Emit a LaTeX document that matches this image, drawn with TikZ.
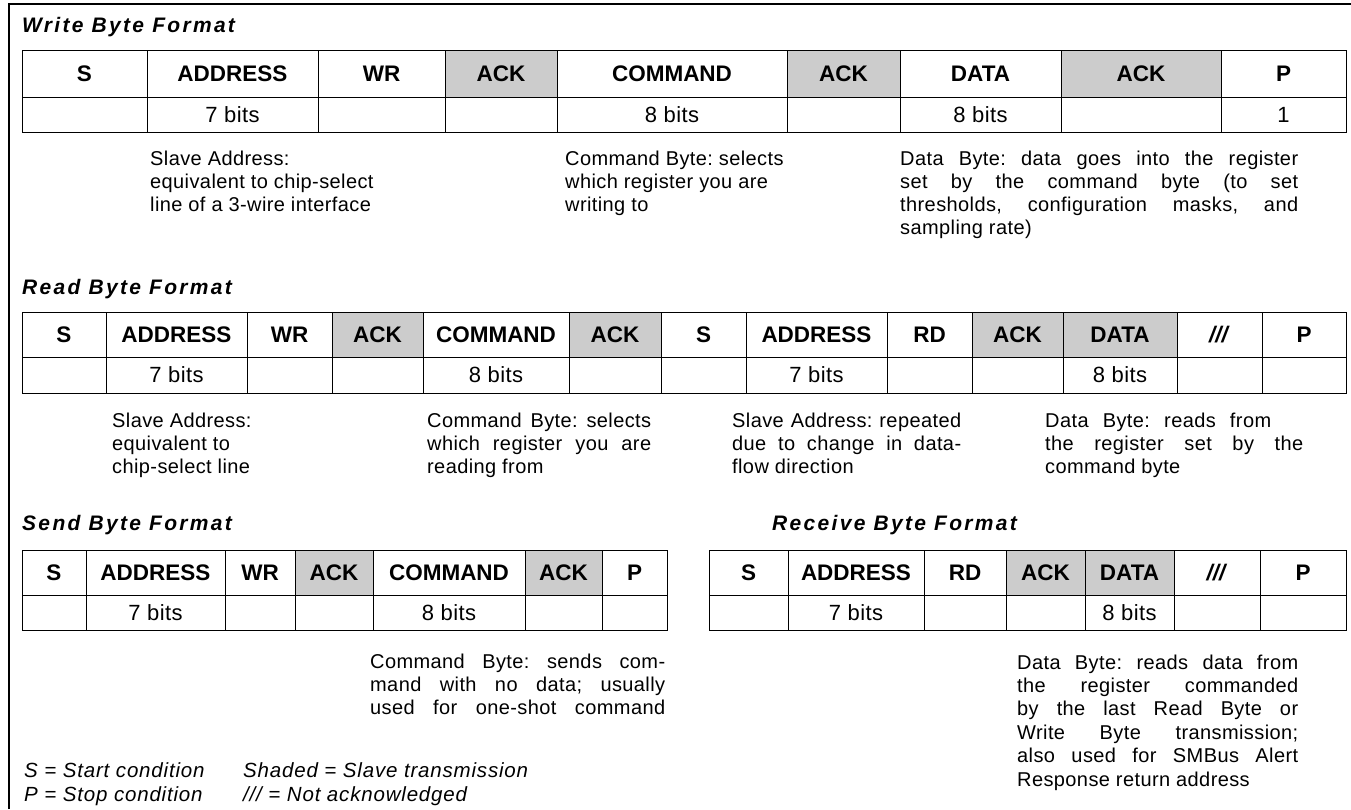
\documentclass[tikz,border=0pt]{standalone}
\usepackage{fontspec}
\setmainfont{Liberation Sans}
\definecolor{ackgray}{HTML}{CCCCCC}
\newcommand\nack{///}
\newcommand\jl[1]{\makebox[\linewidth][s]{#1}}
\newcommand\notebox[3][23]{\parbox[t]{#2}{\frenchspacing\fontsize{20}{#1}\selectfont\addfontfeature{LetterSpace=2}#3}}
\begin{document}
\begin{tikzpicture}[x=1pt,y=-1pt,
  hdr/.style={draw=black, line width=0.9pt, inner sep=0pt, font=\fontsize{22.5}{25}\selectfont\bfseries},
  bitc/.style={draw=black, line width=0.9pt, inner sep=0pt, font=\fontsize{22}{24}\selectfont\addfontfeature{LetterSpace=2}},
  ttl/.style={anchor=base west, inner sep=0pt, font=\fontsize{21}{24}\selectfont\bfseries\itshape\addfontfeature{LetterSpace=11}},
  note/.style={anchor=base west, inner sep=0pt},
  leg/.style={anchor=base west, inner sep=0pt, font=\fontsize{20.5}{24}\selectfont\itshape\addfontfeature{LetterSpace=4}}]
\useasboundingbox (0,0) rectangle (1351,809);
\fill[white] (0,0) rectangle (1351,809);
% frame
\draw[line width=1.6pt] (9,809) -- (9,4) -- (1351,4);

% ---------------- Write Byte Format
\node[ttl] (tw) at (22,32) {Write Byte Format};
\foreach \a/\b/\t/\f/\n in {22/147/S/white/wS, 147/318/ADDRESS/white/wA, 318/445/WR/white/wW, 445/557/ACK/ackgray/wK1, 557/787/COMMAND/white/wC, 787/900/ACK/ackgray/wK2, 900/1061/DATA/white/wD, 1061/1221/ACK/ackgray/wK3, 1221/1346/P/white/wP}
  \node[hdr, fill=\f, minimum width={(\b-\a)*1pt}, minimum height=47pt] (\n) at ({(\a+\b)/2},73.5) {\t};
\foreach \a/\b/\t/\n in {22/147/{}/wb1, 147/318/{7 bits}/wb2, 318/445/{}/wb3, 445/557/{}/wb4, 557/787/{8 bits}/wb5, 787/900/{}/wb6, 900/1061/{8 bits}/wb7, 1061/1221/{}/wb8, 1221/1346/{1}/wb9}
  \node[bitc, minimum width={(\b-\a)*1pt}, minimum height=35pt] (\n) at ({(\a+\b)/2},114.5) {\t};
\node[note] (wn1) at (150,165) {\notebox{260pt}{Slave Address:\\equivalent to chip-select\\line of a 3-wire interface}};
\node[note] (wn2) at (565,165) {\notebox{260pt}{Command Byte: selects\\which register you are\\writing to}};
\node[note] (wn3) at (900,165) {\notebox{398pt}{\jl{Data Byte: data goes into the register}\\\jl{set by the command byte (to set}\\\jl{thresholds, configuration masks, and}\\sampling rate)}};

% ---------------- Read Byte Format
\node[ttl] (tr) at (22,294) {Read Byte Format};
\foreach \a/\b/\t/\f/\n in {22/106/S/white/rS, 106/247/ADDRESS/white/rA, 247/332/WR/white/rW, 332/423/ACK/ackgray/rK1, 423/569/COMMAND/white/rC, 569/661/ACK/ackgray/rK2, 661/746/S/white/rS2, 746/887/ADDRESS/white/rA2, 887/972/RD/white/rR, 972/1063/ACK/ackgray/rK3, 1063/1177/DATA/ackgray/rD, 1177/1262/\textit{\nack}/white/rN, 1262/1346/P/white/rP}
  \node[hdr, fill=\f, minimum width={(\b-\a)*1pt}, minimum height=45pt] (\n) at ({(\a+\b)/2},334.5) {\t};
\foreach \a/\b/\t/\n in {22/106/{}/rb1, 106/247/{7 bits}/rb2, 247/332/{}/rb3, 332/423/{}/rb4, 423/569/{8 bits}/rb5, 569/661/{}/rb6, 661/746/{}/rb7, 746/887/{7 bits}/rb8, 887/972/{}/rb9, 972/1063/{}/rb10, 1063/1177/{8 bits}/rb11, 1177/1262/{}/rb12, 1262/1346/{}/rb13}
  \node[bitc, minimum width={(\b-\a)*1pt}, minimum height=36pt] (\n) at ({(\a+\b)/2},375) {\t};
\node[note] (rn1) at (112,427) {\notebox{200pt}{Slave Address:\\equivalent to\\chip-select line}};
\node[note] (rn2) at (427,427) {\notebox{224pt}{\jl{Command Byte: selects}\\\jl{which register you are}\\reading from}};
\node[note] (rn3) at (732,427) {\notebox{229pt}{\jl{Slave Address: repeated}\\\jl{due to change in data-}\\flow direction}};
\node[note] (rn4) at (1045,427) {\notebox{258pt}{\makebox[226pt][s]{Data Byte: reads from}\\\jl{the register set by the}\\command byte}};

% ---------------- Send Byte Format
\node[ttl] (ts) at (22,530) {Send Byte Format};
\foreach \a/\b/\t/\f/\n in {22/86/S/white/sS, 86/225/ADDRESS/white/sA, 225/295/WR/white/sW, 295/373/ACK/ackgray/sK1, 373/525/COMMAND/white/sC, 525/602/ACK/ackgray/sK2, 602/667/P/white/sP}
  \node[hdr, fill=\f, minimum width={(\b-\a)*1pt}, minimum height=45pt] (\n) at ({(\a+\b)/2},572.5) {\t};
\foreach \a/\b/\t/\n in {22/86/{}/sb1, 86/225/{7 bits}/sb2, 225/295/{}/sb3, 295/373/{}/sb4, 373/525/{8 bits}/sb5, 525/602/{}/sb6, 602/667/{}/sb7}
  \node[bitc, minimum width={(\b-\a)*1pt}, minimum height=35pt] (\n) at ({(\a+\b)/2},612.5) {\t};
\node[note] (sn) at (370,668) {\notebox{295pt}{\jl{Command Byte: sends com-}\\\jl{mand with no data; usually}\\\jl{used for one-shot command}}};

% ---------------- Receive Byte Format
\node[ttl] (tv) at (772,530) {Receive Byte Format};
\foreach \a/\b/\t/\f/\n in {709/788/S/white/vS, 788/924/ADDRESS/white/vA, 924/1006/RD/white/vR, 1006/1085/ACK/ackgray/vK, 1085/1174/DATA/ackgray/vD, 1174/1260/\textit{\nack}/white/vN, 1260/1346/P/white/vP}
  \node[hdr, fill=\f, minimum width={(\b-\a)*1pt}, minimum height=45pt] (\n) at ({(\a+\b)/2},572.5) {\t};
\foreach \a/\b/\t/\n in {709/788/{}/vb1, 788/924/{7 bits}/vb2, 924/1006/{}/vb3, 1006/1085/{}/vb4, 1085/1174/{8 bits}/vb5, 1174/1260/{}/vb6, 1260/1346/{}/vb7}
  \node[bitc, minimum width={(\b-\a)*1pt}, minimum height=35pt] (\n) at ({(\a+\b)/2},612.5) {\t};
\node[note] (vn) at (1017,669) {\notebox[23.4]{281pt}{\jl{Data Byte: reads data from}\\\jl{the register commanded}\\\jl{by the last Read Byte or}\\\jl{Write Byte transmission;}\\\jl{also used for SMBus Alert}\\Response return address}};

% ---------------- legend
\node[leg] (l1) at (24,777) {S = Start condition};
\node[leg] (l2) at (24,801) {P = Stop condition};
\node[leg] (l3) at (243,777) {Shaded = Slave transmission};
\node[leg] (l4) at (243,801) {\nack{} = Not acknowledged};
\end{tikzpicture}
\end{document}
